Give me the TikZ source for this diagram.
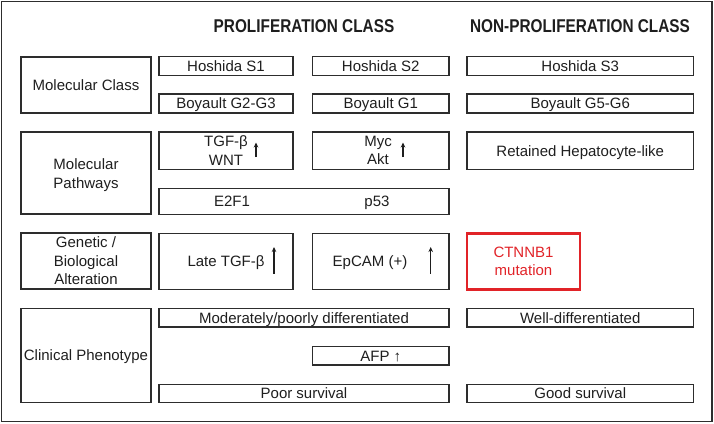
\documentclass[tikz,border=0pt]{standalone}
\usepackage{graphicx}
\usepackage{fontspec}
\setmainfont{Liberation Sans}
\usetikzlibrary{arrows.meta}
\definecolor{boxred}{RGB}{225,35,40}
\definecolor{ink}{RGB}{30,30,30}
\definecolor{edge}{RGB}{45,45,45}
\begin{document}
\begin{tikzpicture}[x=1pt,y=-1pt,
  box/.style={draw=edge, line width=1.2pt, inner sep=0pt, align=center,
    font=\fontsize{15}{18.5}\selectfont, text=ink},
  oneline/.style={text height=10.7pt, text depth=0pt},
  redbox/.style={box, draw=boxred, line width=2.4pt, text=boxred},
  lbl/.style={inner sep=0pt, align=center, font=\fontsize{15}{18.5}\selectfont, text=ink},
  hdr/.style={inner sep=0pt, font=\bfseries\fontsize{18.5}{22}\selectfont, text=ink},
  uparr/.style={line width=1.2pt, draw=ink, -{Stealth[length=5pt,width=4.5pt]}}
]
\useasboundingbox (0,0) rectangle (714,423);
\draw[edge, line width=1.5pt] (1.5,1.5) rectangle (712,421.5);

% headers
\node[hdr] (hprol) at (304,26) {\scalebox{0.83}[1]{PROLIFERATION CLASS}};
\node[hdr] (hnon) at (580,26) {\scalebox{0.83}[1]{NON-PROLIFERATION CLASS}};

% left column
\node[box, oneline, minimum width=130pt, minimum height=56pt] (mc) at (86,85) {Molecular Class};
\node[box, minimum width=130pt, minimum height=82pt] (mp) at (86,173) {};
\node[lbl] (mpt) at (86,175) {Molecular\\Pathways};
\node[box, minimum width=130pt, minimum height=56pt] (ga) at (86,261) {Genetic /\\Biological\\Alteration};
\node[box, oneline, minimum width=130pt, minimum height=94pt] (cp) at (86,355.5) {Clinical Phenotype};

% molecular class
\node[box, oneline, minimum width=134pt, minimum height=19pt] (s1) at (226,65.75) {Hoshida S1};
\node[box, oneline, minimum width=136.5pt, minimum height=19pt] (s2) at (380.75,65.75) {Hoshida S2};
\node[box, oneline, minimum width=226.5pt, minimum height=19pt] (s3) at (580.25,65.75) {Hoshida S3};
\node[box, oneline, minimum width=134pt, minimum height=19pt] (g23) at (226,103.5) {Boyault G2-G3};
\node[box, oneline, minimum width=136.5pt, minimum height=19pt] (g1) at (380.75,103.5) {Boyault G1};
\node[box, oneline, minimum width=226.5pt, minimum height=19pt] (g56) at (580.25,103.5) {Boyault G5-G6};

% molecular pathways
\node[box, minimum width=134pt, minimum height=37.5pt] (tgf) at (226,150.75) {};
\node[lbl] (tgft) at (226,150.5) {TGF-β\\WNT};
\node[box, minimum width=136.5pt, minimum height=37.5pt] (myc) at (380.75,150.75) {};
\node[lbl] (myct) at (378,150.5) {Myc\\Akt};
\node[box, oneline, minimum width=226.5pt, minimum height=37.5pt] (ret) at (580.25,150.75) {Retained Hepatocyte-like};
\node[box, minimum width=290pt, minimum height=26pt] (e2f) at (304,201.3) {};
\node[lbl, oneline] (e2ft) at (232,201.3) {E2F1};
\node[lbl, oneline] (p53t) at (377,201.3) {p53};

\coordinate (a1s) at (256,157); \coordinate (a1e) at (256,142.5);
\draw[uparr] (a1s) -- (a1e);
\coordinate (a2s) at (403,157); \coordinate (a2e) at (403,142.5);
\draw[uparr] (a2s) -- (a2e);

% genetic alteration
\node[box, minimum width=134pt, minimum height=56pt] (late) at (226,261.3) {};
\node[lbl, oneline] (latet) at (226,261) {Late TGF-β};
\node[box, minimum width=136.5pt, minimum height=56pt] (ep) at (380.75,261.3) {};
\node[lbl, oneline] (ept) at (370,261) {EpCAM (+)};
\node[redbox, minimum width=113pt, minimum height=56pt] (ct) at (523.5,261.3) {CTNNB1\\mutation};

\coordinate (a3s) at (274,273.5); \coordinate (a3e) at (274,247);
\draw[uparr] (a3s) -- (a3e);
\coordinate (a4s) at (430.7,273.5); \coordinate (a4e) at (430.7,247);
\draw[uparr] (a4s) -- (a4e);

% clinical phenotype
\node[box, oneline, minimum width=290pt, minimum height=18.5pt] (mod) at (304,317.75) {Moderately/poorly differentiated};
\node[box, oneline, minimum width=226.5pt, minimum height=18.5pt] (well) at (580.25,317.75) {Well-differentiated};
\node[box, oneline, minimum width=136.5pt, minimum height=18.5pt] (afp) at (380.75,355.75) {AFP ↑};
\node[box, oneline, minimum width=290pt, minimum height=18pt] (poor) at (304,393.5) {Poor survival};
\node[box, oneline, minimum width=226.5pt, minimum height=18pt] (good) at (580.25,393.5) {Good survival};
\end{tikzpicture}
\end{document}
